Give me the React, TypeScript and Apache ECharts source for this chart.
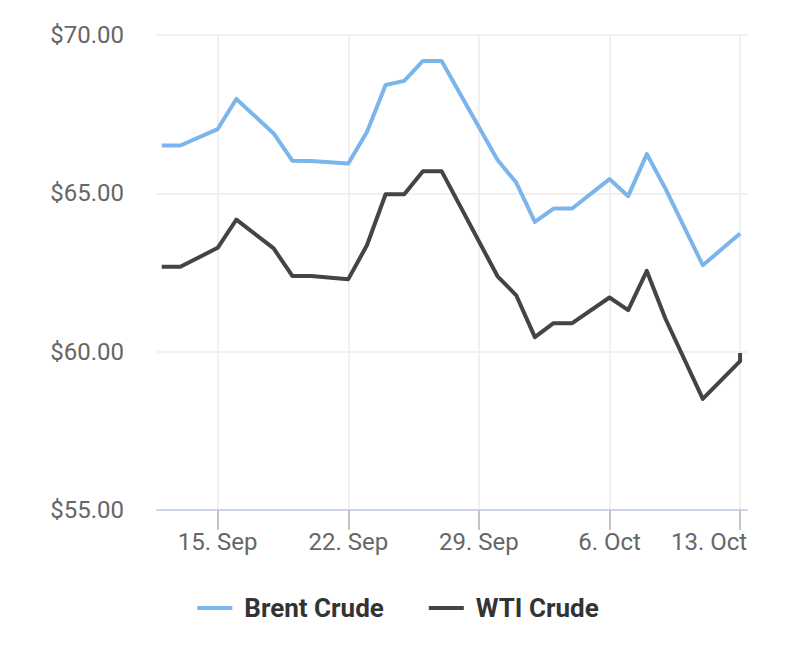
import React, { useEffect, useRef } from "react";
import * as echarts from "echarts";

const dates = [
  "2019-09-12", "2019-09-13", "2019-09-15", "2019-09-16", "2019-09-18", "2019-09-19",
  "2019-09-20", "2019-09-22", "2019-09-23", "2019-09-24", "2019-09-25", "2019-09-26",
  "2019-09-27", "2019-09-30", "2019-10-01", "2019-10-02", "2019-10-03", "2019-10-04",
  "2019-10-06", "2019-10-07", "2019-10-08", "2019-10-09", "2019-10-11", "2019-10-13",
  "2019-10-13",
];
const brent = [
  66.51, 66.51, 67.03, 67.98, 66.89, 66.03, 66.02, 65.94, 66.94, 68.42, 68.55, 69.18,
  69.18, 66.05, 65.34, 64.1, 64.52, 64.52, 65.45, 64.91, 66.24, 65.15, 62.73, 63.73,
  63.73,
];
const wti = [
  62.68, 62.68, 63.28, 64.17, 63.26, 62.39, 62.39, 62.29, 63.36, 64.97, 64.97, 65.7,
  65.7, 62.38, 61.78, 60.46, 60.9, 60.9, 61.71, 61.31, 62.55, 61.04, 58.51, 59.7,
  59.96,
];
const tickDates = ["2019-09-15", "2019-09-22", "2019-09-29", "2019-10-06", "2019-10-13"];

const DAY = 86400000;
const BASE = Date.UTC(2019, 8, 15);
const months = ["Jan", "Feb", "Mar", "Apr", "May", "Jun", "Jul", "Aug", "Sep", "Oct", "Nov", "Dec"];
const toDay = (s: string) => (Date.parse(s + "T00:00:00Z") - BASE) / DAY;
const fmtDay = (d: number) => {
  const dt = new Date(BASE + Math.round(d) * DAY);
  return `${dt.getUTCDate()}. ${months[dt.getUTCMonth()]}`;
};

export default function App() {
  const ref = useRef<HTMLDivElement>(null);
  useEffect(() => {
    if (!ref.current) return;
    const chart = echarts.init(ref.current, undefined, { renderer: "svg" });
    const tickVals = tickDates.map(toDay);
    const lastTick = tickVals[tickVals.length - 1];
    const font = "Roboto";
    const labelStyle = { fontFamily: font, fontSize: 24, color: "#666666" };
    chart.setOption({
      animation: false,
      backgroundColor: "#ffffff",
      grid: { left: 157, right: 49, top: 35, bottom: 138, containLabel: false },
      legend: {
        bottom: 22,
        left: "center",
        icon: "rect",
        itemWidth: 35,
        itemHeight: 4,
        itemGap: 45,
        textStyle: {
          fontFamily: font,
          fontSize: 26,
          fontWeight: "bold",
          color: "#333333",
          padding: [0, 0, 0, 7],
        },
        data: ["Brent Crude", "WTI Crude"],
      },
      xAxis: {
        type: "value",
        min: -3.253,
        max: 28.37,
        axisLine: { show: true, lineStyle: { color: "#ccd6eb", width: 2 } },
        axisTick: {
          show: true,
          customValues: tickVals,
          length: 20,
          lineStyle: { color: "#c4c4c4", width: 2 },
        },
        axisLabel: {
          customValues: tickVals,
          formatter: (v: number) =>
            Math.abs(v - lastTick) < 0.01 ? `{last|${fmtDay(v)}}` : `{n|${fmtDay(v)}}`,
          ...labelStyle,
          margin: 20,
          rich: {
            n: { ...labelStyle },
            last: { ...labelStyle, padding: [0, 62, 0, 0] },
          },
        },
        splitLine: { show: true, lineStyle: { color: "#f0f0f0", width: 2 } },
      },
      yAxis: {
        type: "value",
        min: 55,
        max: 70,
        interval: 5,
        axisLine: { show: false },
        axisTick: { show: false },
        axisLabel: {
          formatter: (v: number) => "$" + v.toFixed(2),
          ...labelStyle,
          margin: 33,
        },
        splitLine: { show: true, lineStyle: { color: "#f0f0f0", width: 2 } },
      },
      series: [
        {
          name: "Brent Crude",
          type: "line",
          showSymbol: false,
          color: "#7cb5ec",
          lineStyle: { width: 4, color: "#7cb5ec", join: "round" },
          data: dates.map((d, i) => [toDay(d), brent[i]]),
        },
        {
          name: "WTI Crude",
          type: "line",
          showSymbol: false,
          color: "#434348",
          lineStyle: { width: 4, color: "#434348", join: "round" },
          data: dates.map((d, i) => [toDay(d), wti[i]]),
        },
      ],
    });
    return () => chart.dispose();
  }, []);
  return (
    <div
      ref={ref}
      style={{ position: "fixed", left: 0, top: 0, width: 796, height: 648 }}
    />
  );
}
